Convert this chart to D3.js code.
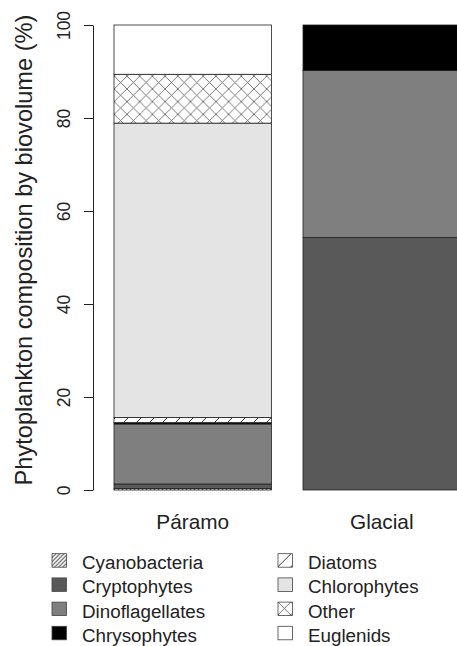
<!DOCTYPE html>
<html>
<head>
<meta charset="utf-8">
<script src="https://cdn.jsdelivr.net/npm/d3@7"></script>
<style>
  body { margin: 0; background: #fff; }
  svg { display: block; font-family: "Liberation Sans", Arial, sans-serif; }
</style>
</head>
<body>
<svg id="chart" width="457" height="646"></svg>
<script>
// data (% of biovolume, stacked bottom -> top)
const sites = ["Páramo", "Glacial"];
const groups = ["Cyanobacteria", "Cryptophytes", "Dinoflagellates", "Chrysophytes",
                "Diatoms", "Chlorophytes", "Other", "Euglenids"];
const paramo = [0.3, 1.0, 12.9, 0.3, 1.1, 63.3, 10.5, 10.6];
const glacial = [0, 54.3, 35.9, 9.8, 0, 0, 0, 0];
const yTicks = [0, 20, 40, 60, 80, 100];

const fills = ["url(#cyano)", "#595959", "#7f7f7f", "#000000",
               "url(#diatom)", "#e4e4e4", "url(#other)", "#ffffff"];

const svg = d3.select("#chart");

// hatch patterns
const defs = svg.append("defs");
function hatch(id, size, d, color, w) {
    const p = defs.append("pattern")
        .attr("id", id)
        .attr("patternUnits", "userSpaceOnUse")
        .attr("width", size).attr("height", size);
    p.append("rect").attr("width", size).attr("height", size).attr("fill", "#fff");
    p.append("path").attr("d", d).attr("stroke", color).attr("stroke-width", w).attr("fill", "none");
}
hatch("cyano", 4, "M0,4 L4,0 M-1,1 L1,-1 M3,5 L5,3", "#555", 1.1);
hatch("diatom", 13, "M0,13 L13,0 M-1,1 L1,-1 M12,14 L14,12", "#333", 1);
hatch("other", 12.7, "M0,0 L12.7,12.7 M12.7,0 L0,12.7", "#555", 0.8);

// scales (x in barplot units: width 1, space 0.2)
const y = d3.scaleLinear().domain([0, 100]).range([490, 25]);
const x = d3.scaleLinear().domain([0.2, 1.2]).range([114, 271.5]);

const table = sites.map((s, i) => ({ site: s, left: 0.2 + i * 1.2, values: i === 0 ? paramo : glacial }));

const segs = [];
table.forEach(t => {
    let cum = 0;
    t.values.forEach((v, k) => {
        if (v > 0) segs.push({ site: t.site, left: t.left, k: k, y0: cum, y1: cum + v });
        cum += v;
    });
});

svg.append("g").selectAll("rect")
    .data(segs)
    .join("rect")
    .attr("x", d => x(d.left))
    .attr("width", d => x(d.left + 1) - x(d.left))
    .attr("y", d => y(d.y1))
    .attr("height", d => y(d.y0) - y(d.y1))
    .attr("fill", d => fills[d.k])
    .attr("stroke", "#222")
    .attr("stroke-width", 0.8);

// y axis
const yAxis = svg.append("g")
    .attr("transform", "translate(93,0)")
    .call(d3.axisLeft(y).tickValues(yTicks).tickSize(9).tickSizeOuter(0).tickFormat(d3.format("d")));
yAxis.select(".domain").attr("stroke", "#222");
yAxis.selectAll(".tick line").attr("stroke", "#222");
yAxis.selectAll(".tick text")
    .attr("transform", "rotate(-90)")
    .attr("x", 0).attr("y", -23).attr("dy", 0)
    .attr("text-anchor", "middle")
    .attr("font-size", 17.5)
    .attr("font-family", "Liberation Sans, Arial, sans-serif")
    .attr("fill", "#222");

svg.append("text")
    .attr("transform", "translate(32,250) rotate(-90)")
    .attr("text-anchor", "middle")
    .attr("font-size", 23.6)
    .attr("fill", "#222")
    .text("Phytoplankton composition by biovolume (%)");

// category labels
svg.append("g").selectAll("text")
    .data(table)
    .join("text")
    .attr("x", d => x(d.left + 0.5))
    .attr("y", 529)
    .attr("text-anchor", "middle")
    .attr("font-size", 20.8)
    .attr("fill", "#222")
    .text(d => d.site);

// legend, two columns of four
const leg = svg.append("g").selectAll("g")
    .data(groups)
    .join("g")
    .attr("transform", (d, i) => `translate(${i < 4 ? 52 : 278},${553.7 + (i % 4) * 24.2})`);
leg.append("rect")
    .attr("width", 14.5).attr("height", 13.5)
    .attr("fill", (d, i) => fills[i])
    .attr("stroke", "#444").attr("stroke-width", 0.8);
leg.append("text")
    .attr("x", 30).attr("y", 15.5)
    .attr("font-size", 18.8)
    .attr("fill", "#222")
    .text(d => d);
</script>
</body>
</html>
